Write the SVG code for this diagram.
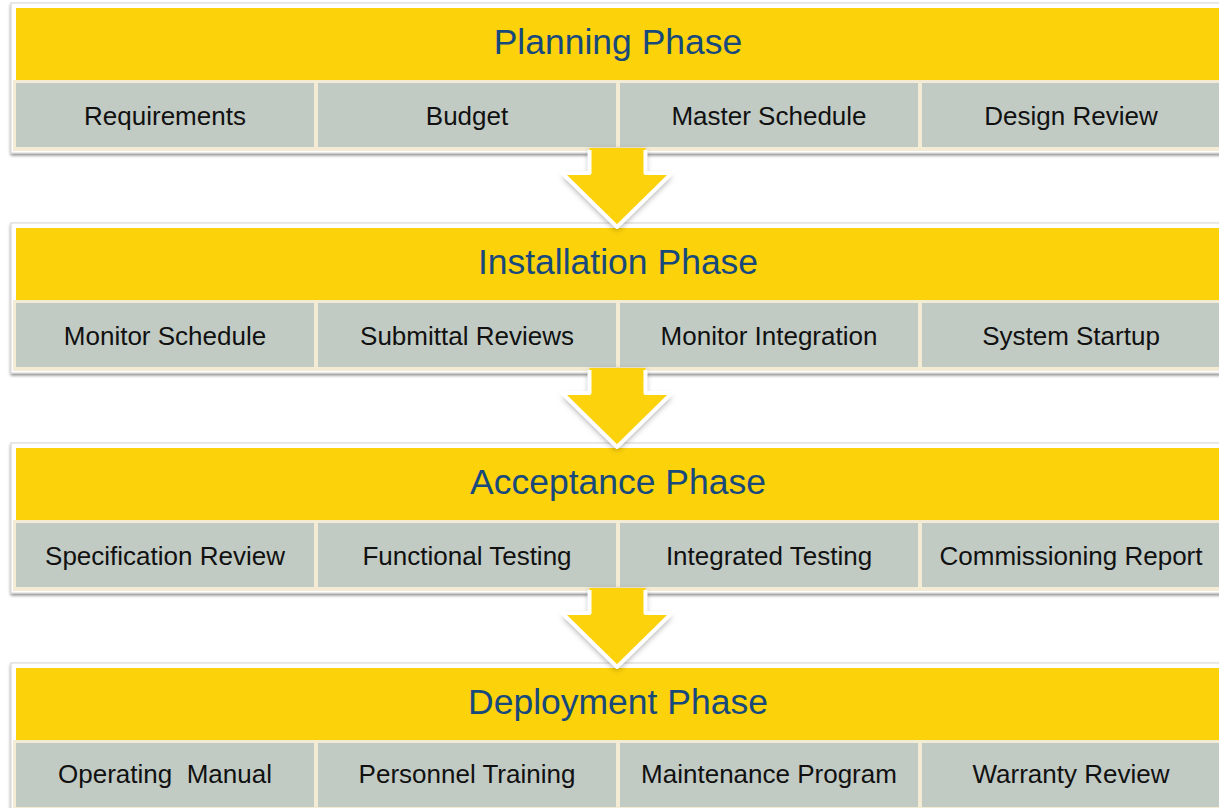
<svg xmlns="http://www.w3.org/2000/svg" width="1219" height="808" viewBox="0 0 1219 808">
<defs>
<style>
.card{fill:#ffffff;stroke:#d4d4d4;stroke-width:1;filter:url(#sh)}
.band{fill:#fcd20b}
.rowbg{fill:#f3ebd4}
.cell{fill:#c1cbc4}
.title{font-family:"Liberation Sans",Arial,sans-serif;font-size:35.5px;fill:#17497c;text-anchor:middle}
.lbl{font-family:"Liberation Sans",Arial,sans-serif;font-size:26px;fill:#111111;text-anchor:middle}
.afill{fill:#fcd20b}
.aline{fill:none;stroke:#ffffff;stroke-width:4;stroke-linejoin:round}
</style>
<filter id="sh" x="-5%" y="-10%" width="110%" height="130%">
<feDropShadow dx="0" dy="2" stdDeviation="1.8" flood-color="#000" flood-opacity="0.45"/>
</filter>
<filter id="ash" x="-20%" y="-20%" width="140%" height="150%">
<feDropShadow dx="0" dy="3" stdDeviation="3" flood-color="#000" flood-opacity="0.4"/>
</filter>
<g id="phaseShape">
<rect class="card" x="11" y="3" width="1220" height="150"/>
<rect class="band" x="16" y="8" width="1210" height="72"/>
<rect class="rowbg" x="13" y="80" width="1215" height="71"/>
<rect class="cell" x="16" y="83" width="298" height="64"/>
<rect class="cell" x="318" y="83" width="298" height="64"/>
<rect class="cell" x="620" y="83" width="298" height="64"/>
<rect class="cell" x="922" y="83" width="305" height="64"/>
</g>
<g id="arrowShape">
<polygon class="afill" points="589.5,148 645.5,148 645.5,173 672,173 617,227 562,173 589.5,173" filter="url(#ash)"/>
<polyline class="aline" points="589.5,150 589.5,173 562,173 617,227 672,173 645.5,173 645.5,150"/>
</g>
</defs>

<g id="planning">
<use href="#phaseShape"/>
<text class="title" x="618" y="54">Planning Phase</text>
<text class="lbl" x="165" y="125">Requirements</text>
<text class="lbl" x="467" y="125">Budget</text>
<text class="lbl" x="769" y="125">Master Schedule</text>
<text class="lbl" x="1071" y="125">Design Review</text>
</g>

<g id="installation" transform="translate(0,220)">
<use href="#phaseShape"/>
<text class="title" x="618" y="54">Installation Phase</text>
<text class="lbl" x="165" y="125">Monitor Schedule</text>
<text class="lbl" x="467" y="125">Submittal Reviews</text>
<text class="lbl" x="769" y="125">Monitor Integration</text>
<text class="lbl" x="1071" y="125">System Startup</text>
</g>

<g id="acceptance" transform="translate(0,440)">
<use href="#phaseShape"/>
<text class="title" x="618" y="54">Acceptance Phase</text>
<text class="lbl" x="165" y="125">Specification Review</text>
<text class="lbl" x="467" y="125">Functional Testing</text>
<text class="lbl" x="769" y="125">Integrated Testing</text>
<text class="lbl" x="1071" y="125">Commissioning Report</text>
</g>

<g id="deployment" transform="translate(0,660)">
<use href="#phaseShape"/>
<text class="title" x="618" y="54">Deployment Phase</text>
<text class="lbl" x="165" y="123" xml:space="preserve">Operating  Manual</text>
<text class="lbl" x="467" y="123">Personnel Training</text>
<text class="lbl" x="769" y="123">Maintenance Program</text>
<text class="lbl" x="1071" y="123">Warranty Review</text>
</g>

<g id="connectors">
<use href="#arrowShape"/>
<use href="#arrowShape" transform="translate(0,220)"/>
<use href="#arrowShape" transform="translate(0,440)"/>
</g>
</svg>
